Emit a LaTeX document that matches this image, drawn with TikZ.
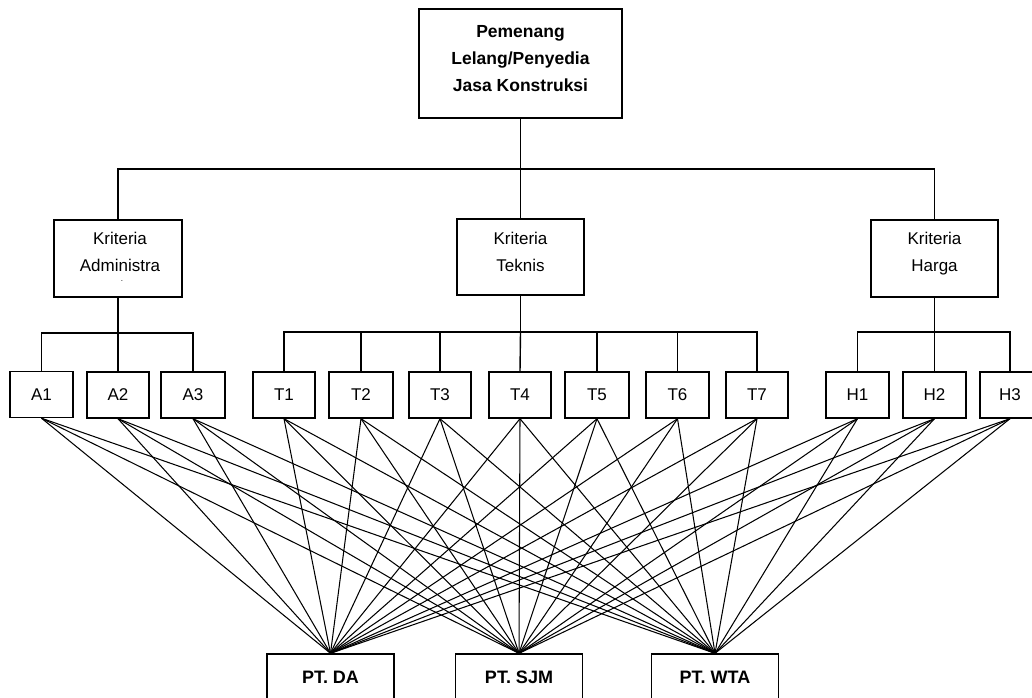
\documentclass[tikz,border=0pt]{standalone}
\usepackage{fontspec}
\setmainfont{Liberation Sans}
\begin{document}
\begin{tikzpicture}[x=1pt,y=-1pt,
  box/.style={draw, line width=1.4pt, inner sep=0pt},
  txt/.style={inner sep=0pt, align=center, text height=40pt, text depth=5pt, font=\fontsize{17}{27}\selectfont},
  btxt/.style={inner sep=0pt, align=center, text height=67pt, text depth=5pt, font=\fontsize{17.5}{27}\selectfont\bfseries},
  leaf/.style={box, minimum height=46pt, font=\fontsize{17}{20}\selectfont},
  ptbox/.style={box, minimum width=127pt, minimum height=46pt, font=\fontsize{18}{20}\selectfont\bfseries},
  conn/.style={line width=1.4pt},
  fan/.style={line width=1.05pt}]
\clip (0,0) rectangle (1032,697);
\fill[white] (0,0) rectangle (1032,697);
% top
\node[box, minimum width=203pt, minimum height=109pt] (top) at (520.5,63.5) {};
\node[btxt] (topt) at (520.5,60) {Pemenang\\Lelang/Penyedia\\Jasa Konstruksi};
% criteria
\node[box, minimum width=128pt, minimum height=77pt] (adm) at (118,258.5) {};
\node[txt] (admt) at (120,254) {Kriteria\\Administra};
\node[inner sep=0pt, font=\fontsize{8}{8}\selectfont] (admdot) at (122,281) {.};
\node[box, minimum width=127pt, minimum height=76pt] (tek) at (520.5,257) {};
\node[txt] (tekt) at (520.5,254) {Kriteria\\Teknis};
\node[box, minimum width=127pt, minimum height=77pt] (har) at (934.5,258.5) {};
\node[txt] (hart) at (934.5,254) {Kriteria\\Harga};
% leaves
\node[leaf, minimum width=63pt] (a1) at (41.5,394.5) {A1};
\node[leaf, minimum width=62pt] (a2) at (118,395) {A2};
\node[leaf, minimum width=64pt] (a3) at (193,395) {A3};
\node[leaf, minimum width=62pt] (t1) at (284,395) {T1};
\node[leaf, minimum width=64pt] (t2) at (361,395) {T2};
\node[leaf, minimum width=62pt] (t3) at (440,395) {T3};
\node[leaf, minimum width=62pt] (t4) at (520,395) {T4};
\node[leaf, minimum width=64pt] (t5) at (597,395) {T5};
\node[leaf, minimum width=63pt] (t6) at (677.5,395) {T6};
\node[leaf, minimum width=62pt] (t7) at (757,395) {T7};
\node[leaf, minimum width=63pt] (h1) at (857.5,395) {H1};
\node[leaf, minimum width=63pt] (h2) at (934.5,395) {H2};
\node[leaf, minimum width=60pt] (h3) at (1010,395) {H3};
% alternatives
\node[ptbox] (da) at (330.5,677) {PT. DA};
\node[ptbox] (sjm) at (519,677) {PT. SJM};
\node[ptbox] (wta) at (715,677) {PT. WTA};
% tree connectors
\coordinate (bus0) at (520.5,169);
\draw[conn] (top.south) -- (bus0);
\draw[conn] (adm.north) |- (bus0);
\draw[conn] (har.north) |- (bus0);
\draw[conn] (tek.north) -- (bus0);
\coordinate (busA) at (118,333);
\draw[conn] (adm.south) -- (busA);
\draw[conn] (a1.north) |- (busA);
\draw[conn] (a3.north) |- (busA);
\draw[conn] (a2.north) -- (busA);
\coordinate (busT) at (520.5,332);
\draw[conn] (tek.south) -- (busT);
\foreach \t in {t1,t2,t3,t5,t6,t7} \draw[conn] (\t.north) |- (busT);
\draw[conn] (t4.north) -- (busT);
\coordinate (busH) at (934.5,332);
\draw[conn] (har.south) -- (busH);
\draw[conn] (h1.north) |- (busH);
\draw[conn] (h3.north) |- (busH);
\draw[conn] (h2.north) -- (busH);
% fan
\foreach \s in {a1,a2,a3,t1,t2,t3,t4,t5,t6,t7,h1,h2,h3}
  \foreach \p in {da,sjm,wta}
    \draw[fan] (\s.south) -- (\p.north);
\end{tikzpicture}
\end{document}
